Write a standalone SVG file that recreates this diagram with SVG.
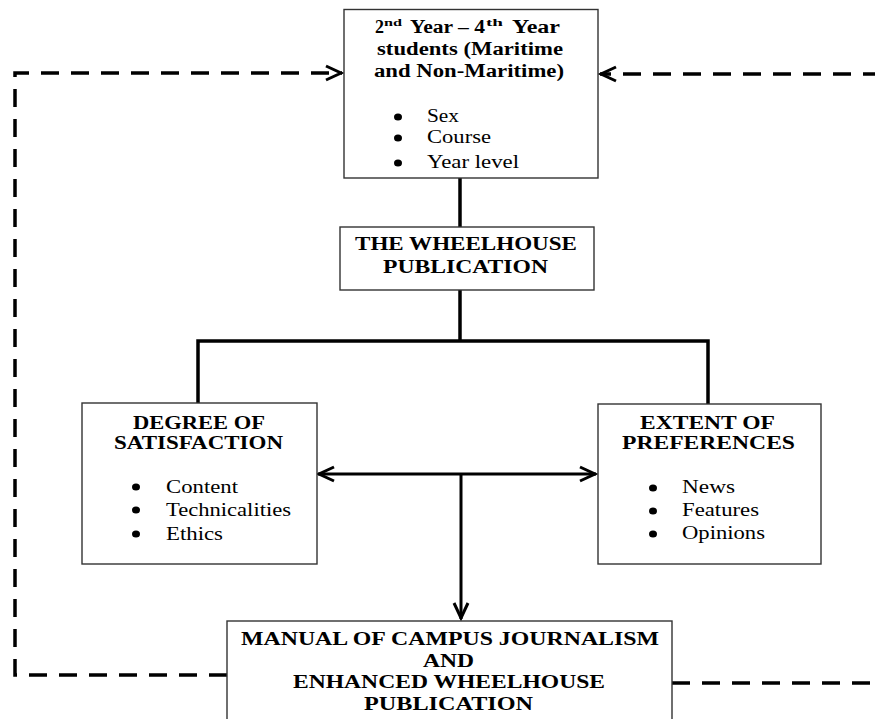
<svg xmlns="http://www.w3.org/2000/svg" width="875" height="719" viewBox="0 0 875 719">
<style>
.box{fill:#fff;stroke:#333;stroke-width:1.4}
.t{font-family:"Liberation Serif","Times New Roman",serif;font-weight:bold;font-size:18px;fill:#000}
.sup{font-family:"Liberation Serif","Times New Roman",serif;font-weight:bold;font-size:11px;fill:#000}
.b{font-family:"Liberation Serif","Times New Roman",serif;font-size:18px;fill:#000}
.bl{fill:#000}
.solid{fill:none;stroke:#000;stroke-width:3.5}
.arrow{fill:none;stroke:#000;stroke-width:3}
.dash{fill:none;stroke:#000;stroke-width:3.5;stroke-dasharray:18 12}
</style>
<defs>
<marker id="head" viewBox="0 0 20 18" refX="18" refY="9" markerWidth="20" markerHeight="18" markerUnits="userSpaceOnUse" orient="auto-start-reverse">
<path d="M2,2 L17,9 L2,16" fill="none" stroke="#000" stroke-width="3"/>
</marker>
</defs>

<g id="connectors">
<path class="solid" d="M460,178 L460,227"/>
<path class="solid" d="M460,290 L460,341"/>
<path class="solid" d="M198,403 L198,341 L708,341 L708,404"/>
<path class="arrow" d="M318,474 L596,474" marker-start="url(#head)" marker-end="url(#head)"/>
<path class="arrow" d="M461,474 L461,619" marker-end="url(#head)"/>
<path class="dash" d="M227,675 L15,675 L15,73 L342,73" marker-end="url(#head)"/>
<path class="dash" d="M672,683 L892,683 L892,74 L600,74" marker-end="url(#head)"/>
</g>

<g id="students">
<rect class="box" x="344" y="9.5" width="254" height="168.5"/>
<text class="t" x="375" y="33">2</text>
<text class="sup" x="384" y="26" textLength="18" lengthAdjust="spacingAndGlyphs">nd</text>
<text class="t" x="410" y="33" textLength="75" lengthAdjust="spacingAndGlyphs">Year – 4</text>
<text class="sup" x="486" y="26" textLength="17" lengthAdjust="spacingAndGlyphs">th</text>
<text class="t" x="512" y="33" textLength="48" lengthAdjust="spacingAndGlyphs">Year</text>
<text class="t" x="377" y="55" textLength="186" lengthAdjust="spacingAndGlyphs">students (Maritime</text>
<text class="t" x="374" y="77" textLength="190" lengthAdjust="spacingAndGlyphs">and Non-Maritime)</text>
<ellipse class="bl" cx="398" cy="117" rx="4" ry="3.5"/>
<ellipse class="bl" cx="398" cy="138" rx="4" ry="3.5"/>
<ellipse class="bl" cx="398" cy="163" rx="4" ry="3.5"/>
<text class="b" x="427" y="122" textLength="32" lengthAdjust="spacingAndGlyphs">Sex</text>
<text class="b" x="427" y="143" textLength="64" lengthAdjust="spacingAndGlyphs">Course</text>
<text class="b" x="427" y="168" textLength="92" lengthAdjust="spacingAndGlyphs">Year level</text>
</g>

<g id="wheelhouse">
<rect class="box" x="340" y="227" width="254" height="63"/>
<text class="t" x="355" y="250" textLength="222" lengthAdjust="spacingAndGlyphs">THE WHEELHOUSE</text>
<text class="t" x="383" y="273" textLength="165" lengthAdjust="spacingAndGlyphs">PUBLICATION</text>
</g>

<g id="satisfaction">
<rect class="box" x="82" y="403" width="235" height="161"/>
<text class="t" x="133" y="429" textLength="132" lengthAdjust="spacingAndGlyphs">DEGREE OF</text>
<text class="t" x="114" y="449" textLength="169" lengthAdjust="spacingAndGlyphs">SATISFACTION</text>
<ellipse class="bl" cx="136" cy="487" rx="4" ry="3.5"/>
<ellipse class="bl" cx="136" cy="510" rx="4" ry="3.5"/>
<ellipse class="bl" cx="136" cy="534" rx="4" ry="3.5"/>
<text class="b" x="166" y="493" textLength="72" lengthAdjust="spacingAndGlyphs">Content</text>
<text class="b" x="166" y="516" textLength="125" lengthAdjust="spacingAndGlyphs">Technicalities</text>
<text class="b" x="166" y="540" textLength="57" lengthAdjust="spacingAndGlyphs">Ethics</text>
</g>

<g id="preferences">
<rect class="box" x="598" y="404" width="223" height="160"/>
<text class="t" x="640" y="429" textLength="135" lengthAdjust="spacingAndGlyphs">EXTENT OF</text>
<text class="t" x="622" y="449" textLength="173" lengthAdjust="spacingAndGlyphs">PREFERENCES</text>
<ellipse class="bl" cx="653" cy="488" rx="4" ry="3.5"/>
<ellipse class="bl" cx="653" cy="511" rx="4" ry="3.5"/>
<ellipse class="bl" cx="653" cy="534" rx="4" ry="3.5"/>
<text class="b" x="682" y="493" textLength="53" lengthAdjust="spacingAndGlyphs">News</text>
<text class="b" x="682" y="516" textLength="77" lengthAdjust="spacingAndGlyphs">Features</text>
<text class="b" x="682" y="539" textLength="83" lengthAdjust="spacingAndGlyphs">Opinions</text>
</g>

<g id="manual">
<rect class="box" x="227" y="621" width="445" height="110"/>
<text class="t" x="241" y="645" textLength="418" lengthAdjust="spacingAndGlyphs">MANUAL OF CAMPUS JOURNALISM</text>
<text class="t" x="423" y="667" textLength="51" lengthAdjust="spacingAndGlyphs">AND</text>
<text class="t" x="293" y="688" textLength="312" lengthAdjust="spacingAndGlyphs">ENHANCED WHEELHOUSE</text>
<text class="t" x="364" y="710" textLength="169" lengthAdjust="spacingAndGlyphs">PUBLICATION</text>
</g>
</svg>
